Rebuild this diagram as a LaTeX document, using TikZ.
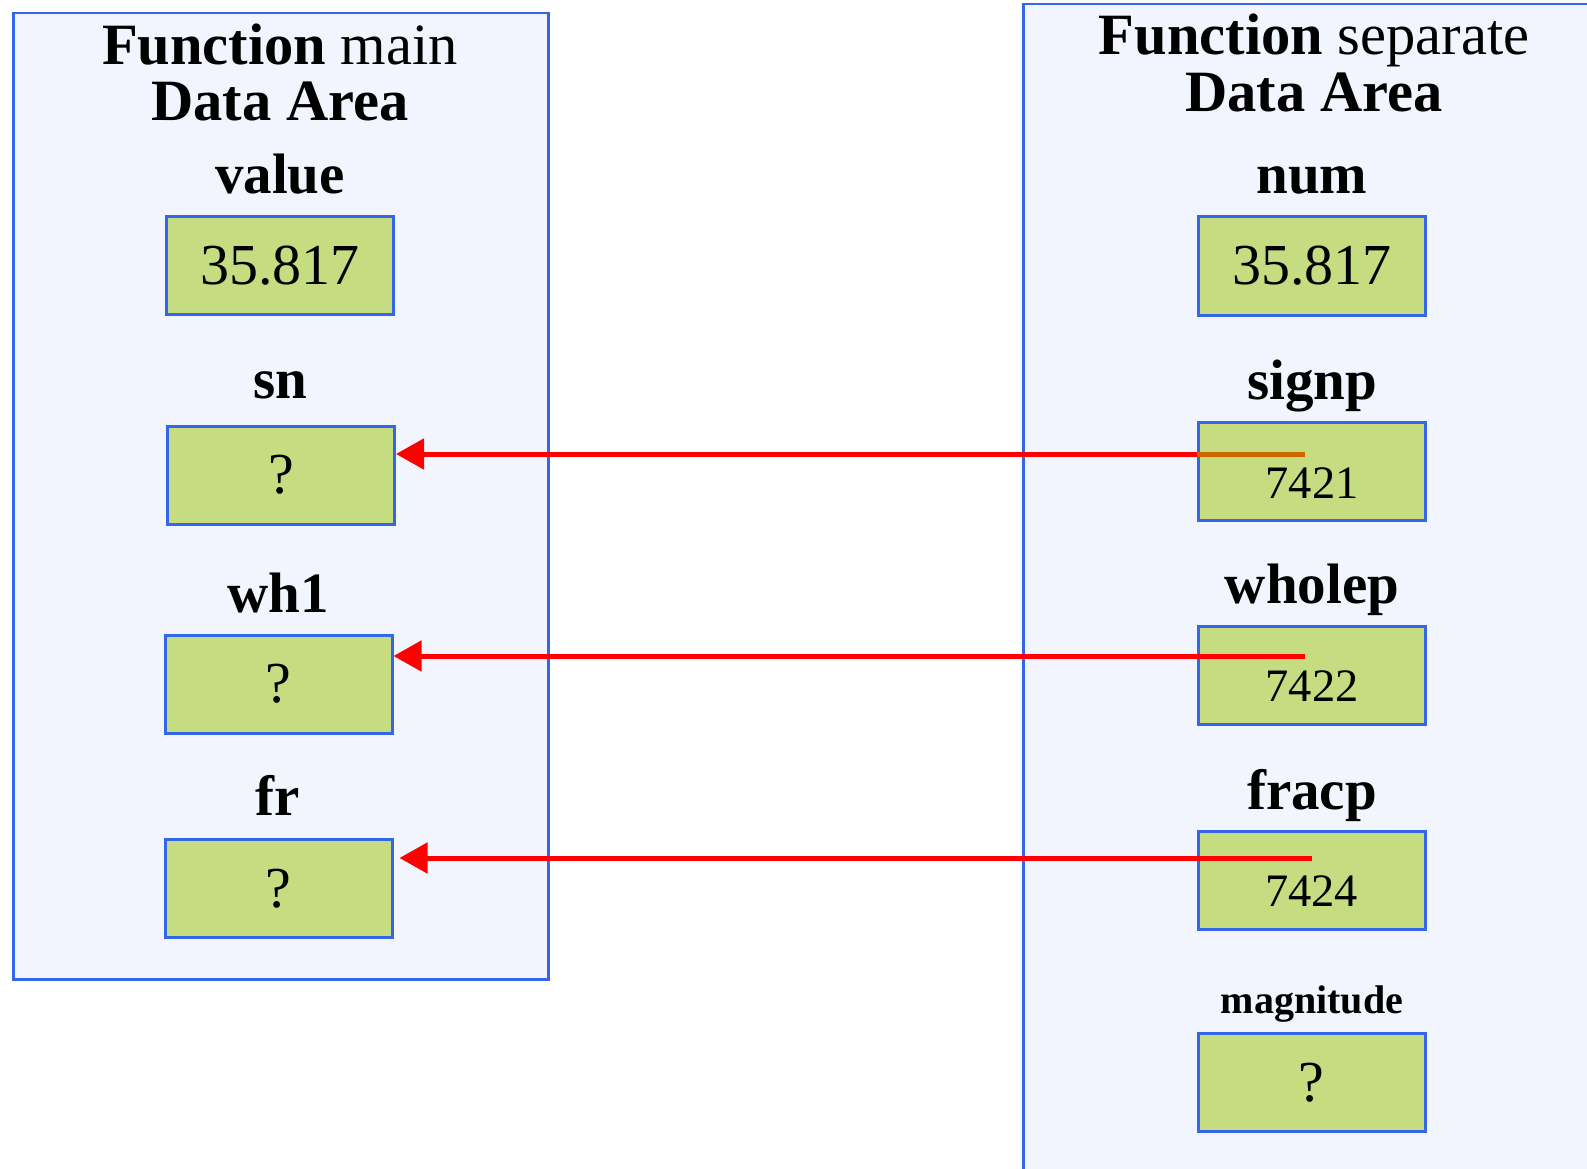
\documentclass[tikz,border=0pt]{standalone}
\usepackage{fontspec}
\setmainfont{Liberation Serif}
\usetikzlibrary{arrows.meta}
\definecolor{panelfill}{RGB}{242,245,253}
\definecolor{edgeblue}{RGB}{51,102,232}
\definecolor{cellgreen}{RGB}{198,220,128}
\definecolor{ptrorange}{RGB}{204,102,0}
\tikzset{
  panel/.style={draw=edgeblue, line width=2.5pt, fill=panelfill, anchor=north west, inner sep=0pt},
  cell/.style={draw=edgeblue, line width=3pt, fill=cellgreen, minimum width=227pt, minimum height=98pt, inner sep=0pt, font=\fontsize{58}{60}\selectfont},
  addr/.style={inner sep=0pt, font=\fontsize{46.5}{50}\selectfont},
  lbl/.style={anchor=base, inner sep=0pt, font=\bfseries\fontsize{57}{60}\selectfont},
  small lbl/.style={anchor=base, inner sep=0pt, font=\bfseries\fontsize{40}{44}\selectfont},
  head/.style={anchor=base, inner sep=0pt, font=\fontsize{58.5}{60}\selectfont},
  ptr/.style={red, line width=5pt, -{Triangle[length=28pt,width=30pt]}},
}
\begin{document}
\begin{tikzpicture}[x=1pt,y=-1pt]
\useasboundingbox (0,0) rectangle (1587,1169);
\clip (0,0) rectangle (1587,1169);
% panels
\node[panel, minimum width=535pt, minimum height=966pt] (mainarea) at (12,12) {};
\node[panel, minimum width=620pt, minimum height=1220pt] (separea) at (1022,3) {};
% headings
\node[head] (mainh1) at (280,65) {\textbf{Function} main};
\node[head] (mainh2) at (280,121) {\textbf{Data Area}};
\node[head] (seph1) at (1314,55) {\textbf{Function} separate};
\node[head] (seph2) at (1314,112) {\textbf{Data Area}};
% left cells
\node[lbl] (lvalue) at (280,194) {value};
\node[cell] (value) at (280,265.5) {35.817};
\node[lbl] (lsn) at (280,398) {sn};
\node[cell] (sn) at (281,475) {?};
\node[lbl] (lwh) at (278,612) {wh1};
\node[cell] (wh) at (278.5,684) {?};
\node[lbl] (lfr) at (278,815) {fr};
\node[cell] (fr) at (278.5,888.5) {?};
% right cells
\node[lbl] (lnum) at (1312,194) {num};
\node[cell] (num) at (1312,266) {35.817};
\node[lbl] (lsignp) at (1312,399) {signp};
\node[cell] (signp) at (1312,471.5) {};
\node[addr] (asignp) at (1312,483) {7421};
\node[lbl] (lwholep) at (1312,603) {wholep};
\node[cell] (wholep) at (1312,675) {};
\node[addr] (awholep) at (1312,686) {7422};
\node[lbl] (lfracp) at (1312,809) {fracp};
\node[cell] (fracp) at (1311.5,880.5) {};
\node[addr] (afracp) at (1311.5,891) {7424};
\node[small lbl] (lmag) at (1312,1013) {magnitude};
\node[cell] (magnitude) at (1311.5,1082.5) {?};
% pointers
\coordinate (p1) at (1305,454);
\coordinate (p2) at (1305,656);
\coordinate (p3) at (1312,858);
\draw[ptr] (p1) -- (p1 -| sn.east);
\draw[ptrorange, line width=5pt] (p1 -| signp.west) -- (p1);
\draw[ptr] (p2) -- (p2 -| wh.east);
\draw[ptr, shorten >=6pt] (p3) -- (p3 -| fr.east);
\end{tikzpicture}
\end{document}
